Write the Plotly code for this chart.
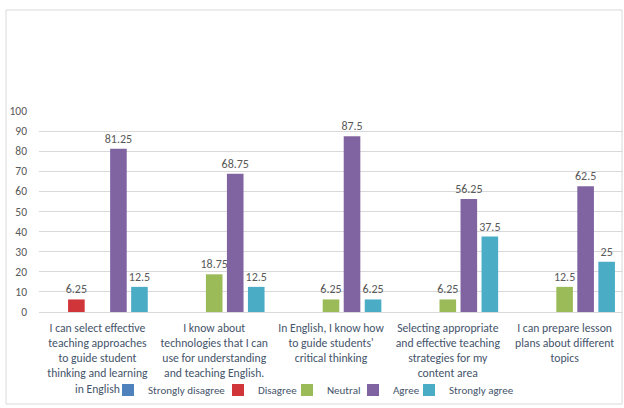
import plotly.graph_objects as go

categories = [
    "I can select effective<br>teaching approaches<br>to guide student<br>thinking and learning<br>in English",
    "I know about<br>technologies that I can<br>use for understanding<br>and teaching English.",
    "In English, I know how<br>to guide students'<br>critical thinking",
    "Selecting appropriate<br>and effective teaching<br>strategies for my<br>content area",
    "I can prepare lesson<br>plans about different<br>topics",
]
series_names = ["Strongly disagree", "Disagree", "Neutral", "Agree", "Strongly agree"]
strongly_disagree = [0, 0, 0, 0, 0]
disagree = [6.25, 0, 0, 0, 0]
neutral = [0, 18.75, 6.25, 6.25, 12.5]
agree = [81.25, 68.75, 87.5, 56.25, 62.5]
strongly_agree = [12.5, 12.5, 6.25, 37.5, 25]
y_ticks = [0, 10, 20, 30, 40, 50, 60, 70, 80, 90, 100]

series_values = [strongly_disagree, disagree, neutral, agree, strongly_agree]
colors = ["#4F81BD", "#D0353A", "#9BBB59", "#8064A2", "#4BACC6"]
# pixel x of each legend symbol centre
legend_symbol_px = [128, 238, 307, 373, 429]

FONT = "Carlito, Lato, 'Liberation Sans', sans-serif"
keys = [f"c{i}" for i in range(len(categories))]

L, R, T, B = 39, 1, 111, 96
W, H = 624, 408
pw = W - L - R
ph = H - T - B

fig = go.Figure()
for i, (name, vals, col) in enumerate(zip(series_names, series_values, colors)):
    fig.add_trace(go.Bar(
        name=name, x=keys, y=vals,
        marker=dict(color=col, line=dict(width=0)),
        text=[("%g" % v) if v else "" for v in vals],
        textposition="outside", cliponaxis=False, constraintext="none",
        textfont=dict(family=FONT, size=12, color="#595959"),
        legend="legend" if i == 0 else f"legend{i+1}",
    ))

legend_common = dict(orientation="h", yanchor="middle", xanchor="left",
                     font=dict(family=FONT, size=11, color="#44546A"),
                     itemwidth=30, bgcolor="rgba(0,0,0,0)", borderwidth=0)
leg_y = (ph - (390 - T)) / ph
layout_legends = {}
for i, px in enumerate(legend_symbol_px):
    key = "legend" if i == 0 else f"legend{i+1}"
    layout_legends[key] = dict(legend_common, x=(px - 20 - L) / pw, y=leg_y)

fig.update_layout(
    width=W, height=H,
    margin=dict(l=L, r=R, t=T, b=B),
    paper_bgcolor="white", plot_bgcolor="white",
    barmode="group", bargap=0.10, bargroupgap=0.21,
    font=dict(family=FONT, size=12, color="#595959"),
    showlegend=True,
    xaxis=dict(tickmode="array", tickvals=keys, ticktext=categories,
               tickfont=dict(family=FONT, size=11.7, color="#44546A"),
               showgrid=False, showline=False, ticks="", ticklabelstandoff=7),
    yaxis=dict(range=[0, 100], tickmode="array", tickvals=y_ticks,
               tickfont=dict(family=FONT, size=11.5, color="#595959"),
               showgrid=True, gridcolor="#D9D9D9", gridwidth=1,
               zeroline=True, zerolinecolor="#D9D9D9", zerolinewidth=1,
               showline=False, ticks="", ticklabelstandoff=11),
    **layout_legends,
)
fig.add_shape(type="rect", xref="paper", yref="paper",
              x0=(6 - L) / pw, x1=(622 - L) / pw,
              y0=(ph - (404 - T)) / ph, y1=(ph - (10 - T)) / ph,
              line=dict(color="#D9D9D9", width=1), fillcolor="rgba(0,0,0,0)", layer="below")

fig.write_html("out.html", config={"displayModeBar": False},
               post_script="document.body.style.margin='0';document.body.style.overflow='hidden';")
